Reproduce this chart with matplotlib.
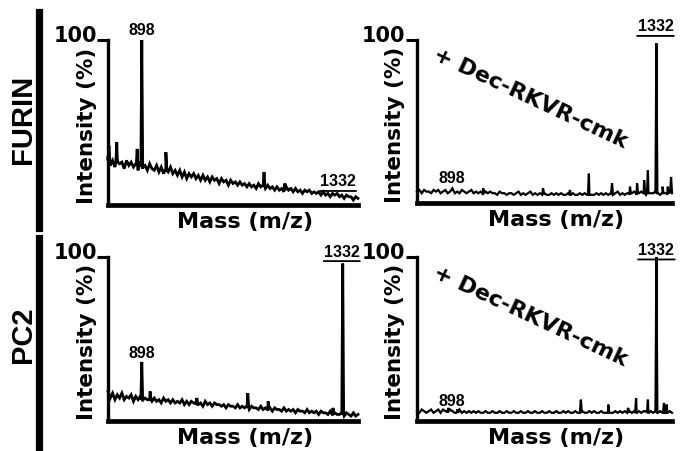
import numpy as np
import matplotlib
matplotlib.use('Agg')
import matplotlib.pyplot as plt
from matplotlib.lines import Line2D

plt.rcParams['font.family'] = ['Liberation Sans', 'DejaVu Sans']
plt.rcParams['font.weight'] = 'bold'
BIG = ['DejaVu Sans']      # heavier, wider face for axis titles
SMALL = ['Liberation Sans']  # narrow digits for peak labels

# --- m/z grid shared by the four spectra ---
mz = np.arange(825, 1366, 5)

# --- baselines (intensity %, one value per grid step) ---
furin = [29, 24, 27, 23, 28, 25, 26, 22, 27, 24,
         26, 23, 25, 21, 26, 22, 24, 21, 25, 22,
         21, 24, 20, 23, 19, 22, 20, 23, 19, 21,
         18, 21, 17, 20, 16, 19, 17, 19, 16, 18,
         15, 18, 15, 17, 14, 17, 15, 16, 13, 16,
         14, 15, 12, 15, 13, 14, 12, 14, 12, 13,
         11, 13, 11, 12, 10, 13, 11, 12, 10, 12,
         10, 11, 9, 11, 9, 10, 8, 11, 9, 10,
         8, 10, 8, 9, 7, 9, 8, 9, 7, 8,
         7, 8, 6, 8, 6, 7, 5, 7, 6, 7,
         5, 6, 4, 6, 5, 5, 3, 5, 4]
furin_inh = [7, 8, 6, 8, 7, 7, 6, 8, 7, 8,
             6, 7, 8, 6, 7, 9, 6, 7, 6, 8,
             7, 6, 7, 8, 6, 7, 6, 7, 5, 7,
             6, 7, 6, 6, 5, 7, 6, 6, 5, 6,
             6, 5, 6, 7, 5, 6, 5, 6, 7, 5,
             6, 5, 6, 5, 6, 5, 5, 6, 5, 6,
             5, 6, 5, 5, 6, 5, 6, 5, 5, 6,
             5, 6, 5, 6, 5, 5, 6, 5, 6, 5,
             6, 5, 6, 5, 6, 7, 5, 6, 5, 6,
             5, 6, 7, 5, 6, 7, 6, 5, 7, 6,
             6, 7, 6, 5, 7, 6, 5, 7, 6]
pc2 = [18, 14, 17, 13, 16, 14, 17, 13, 15, 14,
       16, 12, 15, 13, 15, 12, 14, 13, 14, 12,
       14, 12, 13, 11, 14, 12, 13, 11, 13, 11,
       12, 11, 13, 10, 12, 10, 12, 11, 11, 10,
       11, 9, 12, 10, 11, 9, 11, 10, 10, 9,
       10, 8, 10, 9, 9, 8, 10, 8, 9, 8,
       9, 7, 9, 8, 8, 7, 9, 7, 8, 7,
       8, 6, 8, 7, 7, 6, 8, 6, 7, 6,
       7, 5, 7, 6, 6, 5, 7, 5, 6, 5,
       6, 4, 6, 5, 5, 4, 6, 4, 5, 4,
       4, 5, 3, 5, 4, 3, 5, 3, 4]
pc2_inh = [6, 5, 7, 6, 5, 6, 7, 5, 6, 7,
           5, 7, 6, 5, 7, 6, 5, 6, 7, 5,
           6, 5, 6, 5, 6, 5, 6, 5, 5, 6,
           5, 5, 6, 5, 5, 6, 5, 5, 6, 5,
           5, 6, 5, 5, 6, 5, 5, 6, 5, 5,
           6, 5, 5, 6, 5, 5, 6, 5, 5, 6,
           5, 5, 6, 5, 6, 5, 5, 6, 5, 5,
           6, 5, 5, 6, 5, 6, 5, 5, 6, 5,
           5, 6, 5, 5, 6, 5, 6, 5, 6, 5,
           6, 5, 6, 5, 6, 5, 6, 6, 5, 6,
           5, 6, 5, 6, 5, 6, 5, 6, 5]

# --- peaks: m/z, top, foot ---
furin_pk_mz = [827, 844, 888, 898, 950, 1162, 1207]
furin_pk_top = [36, 38, 34, 100, 32, 20, 13]
furin_pk_base = [27, 26, 24, 23, 21, 11, 9]

furin_inh_pk_mz = [965, 1092, 1149, 1189, 1238, 1276, 1291, 1306, 1314, 1332, 1345, 1356, 1363]
furin_inh_pk_top = [9, 9, 8, 18, 12, 10, 12, 14, 20, 98, 10, 10, 16]
furin_inh_pk_base = [6, 5, 5, 5, 5, 6, 6, 6, 6, 6, 6, 6, 6]

pc2_pk_mz = [898, 916, 1017, 1127, 1171, 1311, 1332]
pc2_pk_top = [36, 18, 14, 17, 12, 8, 96]
pc2_pk_base = [13, 13, 10, 8, 7, 4, 4]

pc2_inh_pk_mz = [891, 910, 1172, 1230, 1272, 1289, 1314, 1332, 1348, 1354]
pc2_inh_pk_top = [8, 7, 13, 10, 8, 14, 13, 100, 11, 10]
pc2_inh_pk_base = [6, 5, 5, 5, 5, 5, 5, 5, 5, 5]


def spectrum(base, pk_mz, pk_top, pk_base, hw=2.0):
    x = list(mz)
    y = list(base)
    for m, t, b in zip(pk_mz, pk_top, pk_base):
        x += [m - hw, m, m + hw]
        y += [b, t, b]
    x = np.array(x, dtype=float)
    y = np.array(y, dtype=float)
    o = np.argsort(x, kind='stable')
    return x[o], y[o]


fig = plt.figure(figsize=(6.82, 4.51), dpi=100)
W, H = 682, 451


def add_ax(x0, x1, ytop, ybot):
    return fig.add_axes([x0 / W, 1 - ybot / H, (x1 - x0) / W, (ybot - ytop) / H])


panels = [
    (add_ax(108, 358, 40, 205), spectrum(furin, furin_pk_mz, furin_pk_top, furin_pk_base), -0.044, 2.0),
    (add_ax(417, 672, 40, 203), spectrum(furin_inh, furin_inh_pk_mz, furin_inh_pk_top, furin_inh_pk_base), -0.047, 1.6),
    (add_ax(108, 358, 257, 421), spectrum(pc2, pc2_pk_mz, pc2_pk_top, pc2_pk_base), -0.044, 2.0),
    (add_ax(417, 672, 257, 421), spectrum(pc2_inh, pc2_inh_pk_mz, pc2_inh_pk_top, pc2_inh_pk_base), -0.047, 1.6),
]

for ax, (x, y), ylx, lw in panels:
    ax.plot(x, y, color='black', lw=lw, clip_on=False, solid_joinstyle='miter')
    ax.set_xlim(825, 1365)
    ax.set_ylim(0, 100)
    for s in ['top', 'right']:
        ax.spines[s].set_visible(False)
    ax.spines['left'].set_linewidth(2.4)
    ax.spines['bottom'].set_linewidth(3.4)
    ax.set_xticks([])
    ax.set_yticks([100])
    ax.set_yticklabels([''])
    ax.tick_params(axis='y', length=8, width=2.2)
    # "100" sits a little above its tick
    ax.text(ylx - 0.001, 1.025, '100', transform=ax.transAxes, ha='right', va='center',
            fontsize=15, fontweight='bold', family=BIG)
    ax.set_ylabel('Intensity (%)', fontsize=15.5, fontweight='bold', family=BIG)
    ax.yaxis.set_label_coords(ylx, 0.48)
    ax.set_xlabel('Mass (m/z)', fontsize=16, fontweight='bold', family=BIG)
    ax.xaxis.set_label_coords(0.547, -0.045)


def label(ax, text, xm, yv, underline=False, size=11.5):
    ax.text(xm, yv, text, ha='center', va='center', fontsize=size, fontweight='bold',
            family=SMALL, clip_on=False)
    if underline:
        ax.annotate('', xy=(xm - 39, yv - 5.5), xytext=(xm + 39, yv - 5.5),
                    arrowprops=dict(arrowstyle='-', lw=1.3, color='black',
                                    shrinkA=0, shrinkB=0),
                    annotation_clip=False)


ax_tl, ax_tr, ax_bl, ax_br = [p[0] for p in panels]
label(ax_tl, '898', 898, 106)
label(ax_tl, '1332', 1322, 14, underline=True)
label(ax_tr, '898', 898, 15)
label(ax_tr, '1332', 1330, 108, underline=True)
label(ax_bl, '898', 898, 41)
label(ax_bl, '1332', 1330, 103, underline=True)
label(ax_br, '898', 898, 12)
label(ax_br, '1332', 1332, 104, underline=True)

for ax in (ax_tr, ax_br):
    ax.text(1066, 64, '+ Dec-RKVR-cmk', rotation=-25, rotation_mode='anchor',
            ha='center', va='center', fontsize=16, fontweight='bold', family=BIG)

# row labels and bars
fig.text(23 / W, 1 - 119 / H, 'FURIN', rotation=90, ha='center', va='center',
         fontsize=21, fontweight='bold', family=SMALL)
fig.text(23 / W, 1 - 335 / H, 'PC2', rotation=90, ha='center', va='center',
         fontsize=21, fontweight='bold', family=SMALL)
fig.add_artist(Line2D([39 / W, 39 / W], [1 - 12 / H, 1 - 228 / H], lw=5.2, color='black'))
fig.add_artist(Line2D([39 / W, 39 / W], [1 - 238 / H, 1 - 447 / H], lw=5.2, color='black'))

fig.savefig('out.png', dpi=100)
